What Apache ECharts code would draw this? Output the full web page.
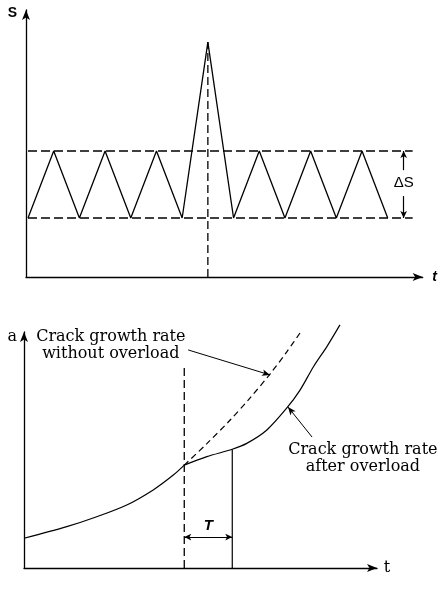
<!DOCTYPE html>
<html>
<head>
<meta charset="utf-8">
<script src="https://cdn.jsdelivr.net/npm/echarts@6/dist/echarts.min.js"></script>
<style>html,body{margin:0;padding:0;background:#fff}#c{width:438px;height:590px}</style>
</head>
<body>
<div id="c"></div>
<script>
// ---- Top chart: load history S(t) ----
const waveT = [0,1,2,3,4,5,6,7,8,9,10,11,12,13,14];
const waveS = [2.21,4.72,2.21,4.72,2.21,4.72,2.21,8.8,2.21,4.72,2.21,4.72,2.21,4.72,2.21];
const sLow = 2.21, sHigh = 4.72, sPeak = 8.8;
const bandEndT = 14.97, overloadT = 7, deltaST = 14.62, deltaSLabelS = 3.52;

// ---- Bottom chart: crack length a(t) ----
const beforeT = [0, 12.1, 20.6, 29.1, 36.6, 42.3, 45.4];
const beforeA = [12.6, 17.5, 21.7, 26.7, 33.1, 39.4, 43.6];
const afterT  = [45.4, 51.8, 59.0, 63.1, 68.8, 74.4, 78.2, 82.0, 85.8, 89.5];
const afterA  = [43.6, 47.2, 50.3, 52.8, 58.5, 67.7, 75.4, 85.3, 93.8, 103.0];
const noOverloadT = [45.4, 51.8, 58.4, 64.0, 69.7, 74.4, 78.7];
const noOverloadA = [43.6, 52.7, 62.7, 72.0, 82.2, 91.5, 100.7];
const overloadTime = 45.4, delayEndT = 59.0, delayEndA = 50.3, dashTopA = 86;
const tArrowA = 13.1;
const labelWithout = 'Crack growth rate\nwithout overload';
const labelAfter = 'Crack growth rate\nafter overload';
const annWithout = { text: [24.6, 94.3], from: [46.5, 92.4], to: [69.7, 81.8] };
const annAfter = { text: [96.0, 46.6], from: [81.6, 55.5], to: [74.8, 68.2] };

const zip = (xs, ys) => xs.map((x, i) => [x, ys[i]]);
const INK = '#000';
const SANS = 'Liberation Sans, Arial, sans-serif';
const SERIF = 'DejaVu Serif, serif';

function axisBase(extra) {
  return Object.assign({
    type: 'value',
    axisLine: { show: true, onZero: false, symbol: ['none', 'arrow'], symbolSize: [6, 10], lineStyle: { color: INK, width: 1.3 } },
    axisTick: { show: false }, axisLabel: { show: false }, splitLine: { show: false }
  }, extra);
}

const chart = echarts.init(document.getElementById('c'), null, { renderer: 'canvas' });
chart.setOption({
  animation: false,
  backgroundColor: '#fff',
  grid: [
    { left: 26, right: 15, top: 10, height: 267 },
    { left: 24, right: 61, top: 332, height: 236 }
  ],
  xAxis: [
    axisBase({ gridIndex: 0, min: -0.078, max: 15.36, name: 't', nameLocation: 'end', nameGap: 12,
      nameTextStyle: { color: INK, fontFamily: SANS, fontSize: 14, fontStyle: 'italic', fontWeight: 'bold', align: 'center', verticalAlign: 'middle', padding: [26, 0, 0, 0] } }),
    axisBase({ gridIndex: 1, min: 0, max: 100, name: 't', nameLocation: 'end', nameGap: 10,
      nameTextStyle: { color: INK, fontFamily: SERIF, fontSize: 16, align: 'center', verticalAlign: 'middle', padding: [30, 0, 0, 0] } })
  ],
  yAxis: [
    axisBase({ gridIndex: 0, min: 0, max: 10, name: 'S', nameLocation: 'end', nameGap: -3,
      nameTextStyle: { color: INK, fontFamily: SANS, fontSize: 14, fontWeight: 'bold', align: 'right', verticalAlign: 'middle', padding: [0, 9, 0, 0] } }),
    axisBase({ gridIndex: 1, min: 0, max: 100, name: 'a', nameLocation: 'end', nameGap: -5,
      nameTextStyle: { color: INK, fontFamily: SERIF, fontSize: 16, align: 'right', verticalAlign: 'middle', padding: [0, 7, 0, 0] } })
  ],
  series: [
    // top: cyclic load with overload
    { type: 'line', xAxisIndex: 0, yAxisIndex: 0, data: zip(waveT, waveS), symbol: 'none',
      lineStyle: { color: INK, width: 1.3 }, clip: false },
    { type: 'line', xAxisIndex: 0, yAxisIndex: 0, data: [[0, sLow], [bandEndT, sLow]], symbol: 'none',
      lineStyle: { color: INK, width: 1.3, type: [9, 4] } },
    { type: 'line', xAxisIndex: 0, yAxisIndex: 0, data: [[0, sHigh], [bandEndT, sHigh]], symbol: 'none',
      lineStyle: { color: INK, width: 1.3, type: [9, 4] } },
    { type: 'line', xAxisIndex: 0, yAxisIndex: 0, data: [[overloadT, 0], [overloadT, sPeak]], symbol: 'none',
      lineStyle: { color: INK, width: 1.3, type: [8, 4] },
      markLine: { silent: true, symbol: ['none', 'arrow'], symbolSize: [5, 7], label: { show: false },
        lineStyle: { color: INK, width: 1.2, type: 'solid' },
        data: [
          [{ coord: [deltaST, deltaSLabelS + 0.48] }, { coord: [deltaST, sHigh] }],
          [{ coord: [deltaST, deltaSLabelS - 0.49] }, { coord: [deltaST, sLow] }]
        ] },
      markPoint: { silent: true, symbol: 'circle', symbolSize: 0,
        label: { show: true, position: 'inside', formatter: 'ΔS', color: INK, fontFamily: SANS, fontSize: 15 },
        data: [{ coord: [deltaST, deltaSLabelS] }] } },
    // bottom: crack growth
    { type: 'line', xAxisIndex: 1, yAxisIndex: 1, data: zip(beforeT, beforeA), symbol: 'none', smooth: 0.3,
      lineStyle: { color: INK, width: 1.2 }, clip: false },
    { type: 'line', xAxisIndex: 1, yAxisIndex: 1, data: zip(afterT, afterA), symbol: 'none', smooth: 0.3,
      lineStyle: { color: INK, width: 1.2 }, clip: false,
      markLine: { silent: true, symbol: ['none', 'arrow'], symbolSize: [5, 8], label: { show: false },
        lineStyle: { color: INK, width: 1, type: 'solid' },
        data: [[{ coord: annAfter.from }, { coord: annAfter.to }]] },
      markPoint: { silent: true, symbol: 'circle', symbolSize: 0,
        label: { show: true, position: 'inside', formatter: labelAfter, color: INK, fontFamily: SERIF, fontSize: 16, lineHeight: 17, align: 'center' },
        data: [{ coord: annAfter.text }] } },
    { type: 'line', xAxisIndex: 1, yAxisIndex: 1, data: zip(noOverloadT, noOverloadA), symbol: 'none', smooth: 0.3,
      lineStyle: { color: INK, width: 1.2, type: [6, 4] }, clip: false,
      markLine: { silent: true, symbol: ['none', 'arrow'], symbolSize: [5, 8], label: { show: false },
        lineStyle: { color: INK, width: 1, type: 'solid' },
        data: [[{ coord: annWithout.from }, { coord: annWithout.to }]] },
      markPoint: { silent: true, symbol: 'circle', symbolSize: 0,
        label: { show: true, position: 'inside', formatter: labelWithout, color: INK, fontFamily: SERIF, fontSize: 16, lineHeight: 17, align: 'center' },
        data: [{ coord: annWithout.text }] } },
    { type: 'line', xAxisIndex: 1, yAxisIndex: 1, data: [[overloadTime, 0], [overloadTime, dashTopA]], symbol: 'none',
      lineStyle: { color: INK, width: 1.3, type: [8, 4] } },
    { type: 'line', xAxisIndex: 1, yAxisIndex: 1, data: [[delayEndT, 0], [delayEndT, delayEndA]], symbol: 'none',
      lineStyle: { color: INK, width: 1.2 },
      markLine: { silent: true, symbol: ['arrow', 'arrow'], symbolSize: [5, 7],
        lineStyle: { color: INK, width: 1.2, type: 'solid' },
        label: { show: true, position: 'middle', formatter: 'T', color: INK, fontFamily: SANS, fontSize: 15, fontWeight: 'bold', fontStyle: 'italic', distance: 4 },
        data: [[{ coord: [overloadTime, tArrowA] }, { coord: [delayEndT, tArrowA] }]] } }
  ]
});
</script>
</body>
</html>
